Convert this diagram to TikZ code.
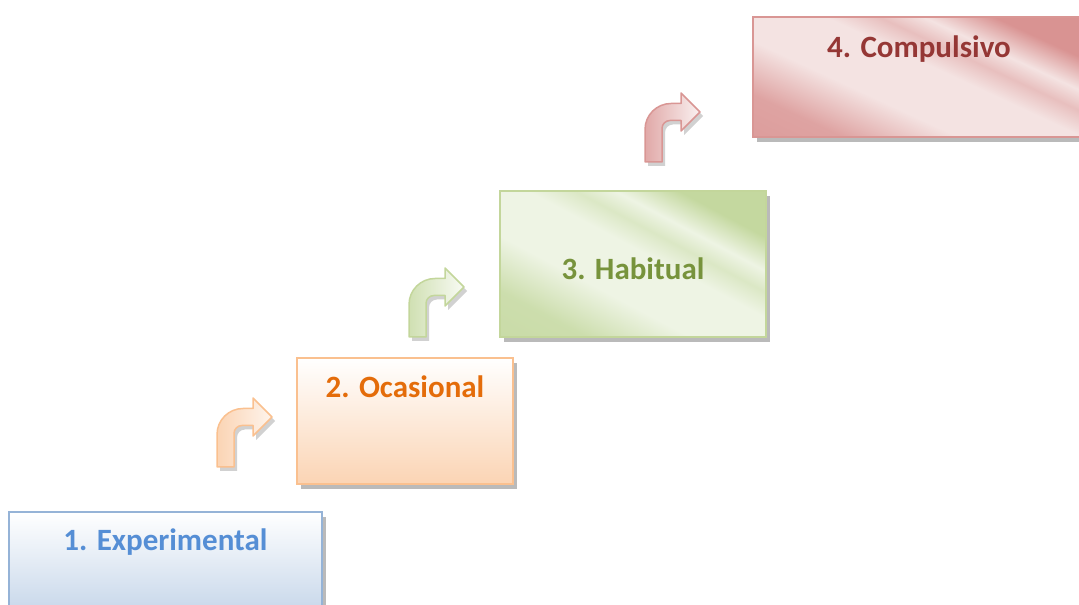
\documentclass[tikz,border=0pt]{standalone}
\usepackage{fontspec}
\setmainfont{Carlito}
\usetikzlibrary{shadows}
\definecolor{bluetxt}{HTML}{558ED5}
\definecolor{blueln}{HTML}{95B3D7}
\definecolor{bluefl}{HTML}{B9CDE5}
\definecolor{orgtxt}{HTML}{E46C0A}
\definecolor{orgln}{HTML}{FAC08F}
\definecolor{orgfl}{HTML}{FBD4B4}
\definecolor{grntxt}{HTML}{77933C}
\definecolor{grnln}{HTML}{C3D69B}
\definecolor{grnfl}{HTML}{C4D89F}
\definecolor{grnlt}{HTML}{EEF4E4}
\definecolor{redtxt}{HTML}{953735}
\definecolor{redln}{HTML}{D99694}
\definecolor{redfl}{HTML}{D99392}
\definecolor{redlt}{HTML}{F4E3E2}
\pgfdeclarehorizontalshading{grnsh}{100bp}{color(0bp)=(grnfl); color(27bp)=(grnfl!80!grnlt);
  color(40bp)=(grnlt); color(54bp)=(grnlt); color(60bp)=(grnfl!45!grnlt); color(65bp)=(grnlt);
  color(73bp)=(grnfl); color(100bp)=(grnfl)}
\pgfdeclarehorizontalshading{redsh}{100bp}{color(0bp)=(redfl); color(27bp)=(redfl!80!redlt);
  color(40bp)=(redlt); color(54bp)=(redlt); color(60bp)=(redfl!45!redlt); color(65bp)=(redlt);
  color(73bp)=(redfl); color(100bp)=(redfl)}
\begin{document}
\begin{tikzpicture}[x=1pt, y=1pt,
    box/.style={rectangle, draw, line width=2pt, anchor=north west, inner sep=0pt,
      drop shadow={shadow xshift=4pt, shadow yshift=-5pt, opacity=0.45, fill=black!60}},
    lbl/.style={anchor=base, font=\bfseries\fontsize{31}{36}\selectfont},
    arr/.style={line width=1.5pt, line join=round,
      drop shadow={shadow xshift=3pt, shadow yshift=-4pt, opacity=0.3, fill=black!60}}]
    \useasboundingbox (0,0) rectangle (1079,605);
    \def \bent#1#2#3#4{
      \draw[arr, draw=#2, left color=#3, right color=#4, shift={(#1)}]
        (0,0) -- (0,32.5) arc[start angle=180, end angle=90, radius=26] -- (36,58.5)
        -- (36,69) -- (55,50) -- (36,31) -- (36,41.5) -- (25,41.5)
        arc[start angle=90, end angle=180, radius=8] -- (17,0) -- cycle;
    }
    \node[box, draw=blueln, top color=white, bottom color=bluefl,
      minimum width=313pt, minimum height=126pt] (1) at (8,94) {};
    \node[box, draw=orgln, top color=white, bottom color=orgfl,
      minimum width=216pt, minimum height=126pt] (2) at (296,248) {};
    \node[box, draw=grnln, shading=grnsh, shading angle=62,
      minimum width=266pt, minimum height=146pt] (3) at (499,415) {};
    \node[box, draw=redln, shading=redsh, shading angle=65,
      minimum width=332pt, minimum height=120pt] (4) at (752,589) {};
    \node[lbl, text=bluetxt] (1t) at ([yshift=-40pt]1.north) {1. Experimental};
    \node[lbl, text=orgtxt] (2t) at ([yshift=-41pt]2.north) {2. Ocasional};
    \node[lbl, text=grntxt] (3t) at ([yshift=-16pt]3.center) {3. Habitual};
    \node[lbl, text=redtxt] (4t) at ([yshift=-42pt]4.north) {4. Compulsivo};
    \bent{217,138}{orgln}{orgfl}{orgfl!25}
    \bent{409,268}{grnln}{grnfl!80}{grnlt!40}
    \bent{645,443}{redln}{redfl!80}{redlt!50}
\end{tikzpicture}
\end{document}
